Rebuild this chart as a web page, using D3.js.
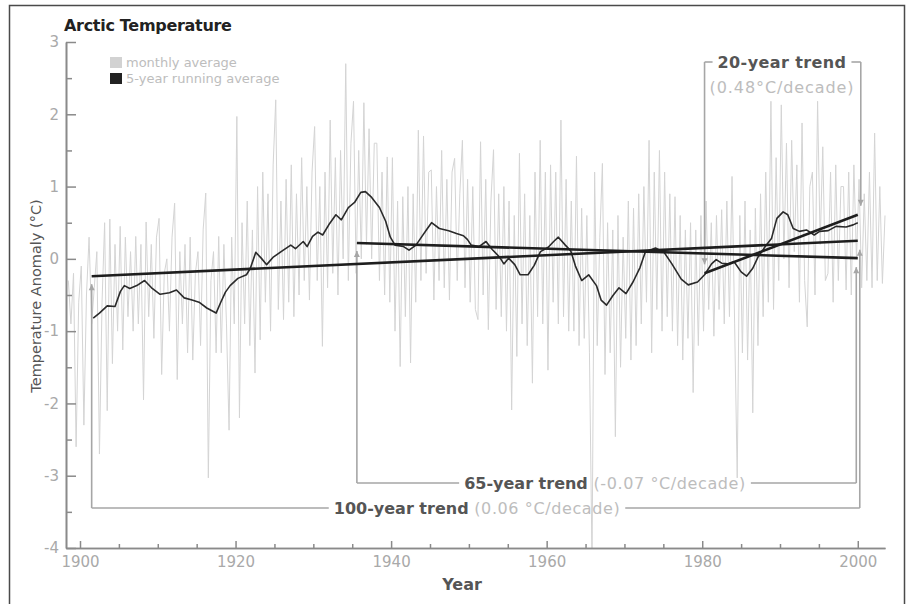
<!DOCTYPE html>
<html><head><meta charset="utf-8">
<script src="https://cdnjs.cloudflare.com/ajax/libs/d3/7.8.5/d3.min.js"></script>
<style>
body{margin:0;background:#fff;}
svg{display:block;font-family:"DejaVu Sans",sans-serif;}
</style>
</head><body>
<svg id="c" width="911" height="604"></svg>
<script>
// ---------------- DATA ----------------
const monthlyStart = 1898.5;   // first sample (year)
const monthlyPerYear = 3;      // samples per year
const monthly = [
 -0.3,-0.9,
 -0.2,-2.6,-0.6,   -0.1,-2.3,-0.5,   0.3,-0.9,-0.4,   0.1,-2.7,-0.6,   0.5,-2.1,0.55,
 -1.45,0.2,-1.0,   0.45,-1.26,0.3,   -0.8,0.1,-1.0,   0.31,-0.9,0.2,   -1.95,0.51,-0.8,
 0.2,-1.1,0.3,     0.56,-1.6,-0.2,   0.0,-1.0,0.3,    0.77,-1.67,0.1,  -0.9,0.2,-1.3,
 0.3,-1.4,-0.2,    0.1,-1.2,0.4,     0.91,-3.03,-0.3, 0.1,-1.3,0.31,   -1.3,0.2,-0.9,
 -2.37,0.3,-0.9,   1.97,-2.2,0.5,    -0.9,0.8,-1.2,   0.4,-1.58,1.0,   -1.12,1.2,-0.6,
 0.9,-1.0,1.3,     2.2,-0.7,0.8,     -0.84,1.1,-0.6,  1.3,-0.8,0.9,    -0.5,1.4,-0.3,
 1.0,-0.57,1.2,    1.83,-0.3,1.0,    -1.21,1.2,-0.4,  1.92,-0.2,1.4,   -0.5,1.5,0.0,
 2.7,-0.3,1.6,     2.18,-0.2,1.5,    0.0,2.16,0.2,    1.8,0.0,1.6,     1.6,-0.3,1.2,
 -0.5,1.41,-0.6,   1.4,-1.0,0.8,     -1.49,0.86,-0.8, 1.0,-1.44,0.9,   -0.6,1.78,-0.3,
 1.7,-0.2,1.2,     1.23,-0.57,1.0,   -0.3,1.5,-0.4,   1.1,-0.57,1.2,   1.39,-0.3,0.9,
 1.64,-0.4,1.1,    -0.6,1.0,-0.7,    -0.84,1.62,-0.5, 1.1,-0.98,0.8,   1.51,-0.7,0.9,
 -0.8,1.0,-1.0,    0.8,-2.09,0.6,    -1.35,1.46,-0.9, 0.9,-1.2,0.6,    -1.72,1.2,-0.8,
 1.64,-0.9,1.2,    -1.54,1.3,-0.6,   1.2,-0.9,1.92,   -0.8,1.1,-1.0,   0.8,-1.0,1.42,
 -1.2,0.7,-1.1,    0.6,-1.3,-4.2,    1.2,-1.2,0.3,    1.32,-1.6,0.5,   -1.3,0.4,-2.46,
 0.6,-1.5,0.3,     -1.1,0.8,-1.4,    0.7,-1.2,0.9,    -0.9,1.0,-0.6,   1.64,-1.3,1.2,
 -0.7,1.5,-1.0,    1.2,-0.8,0.9,     -1.0,0.86,-1.2,  0.6,-1.4,0.4,    -1.1,0.5,-1.85,
 0.4,-1.2,0.6,     -1.0,0.8,-0.7,    0.5,-1.07,0.6,   -0.7,0.68,-0.9,  0.8,-0.8,1.14,
 -0.9,-3.03,0.6,   -1.3,0.8,-1.4,    0.4,-2.13,0.7,   -1.2,0.9,-0.8,   1.2,-0.6,2.18,
 -0.7,1.4,-0.3,    2.13,0.0,1.6,     -0.4,1.64,0.1,   1.3,-0.6,1.88,   -0.3,-0.94,1.0,
 1.2,-0.5,2.18,    0.2,1.55,-0.3,    -0.2,1.2,-0.6,   1.3,-0.3,1.0,    1.0,-0.43,1.2,
 -0.5,1.3,0.0,     1.1,-0.4,0.9,     -0.3,1.2,-0.4,   1.74,-0.3,1.0,
 -0.34,0.6
];

const runYears = [1901.7,1902.5,1903.5,1904.5,1905.2,1905.7,1906.4,1907.3,1908.3,1909.2,1910.3,1911.5,1912.4,1913.4,1914.4,1915.3,1916.3,1917.5,1918.1,1918.7,1919.3,1920.3,1921.4,1921.9,1922.6,1923.3,1924.0,1924.8,1926.0,1927.1,1927.7,1928.7,1929.2,1929.9,1930.6,1931.2,1932.1,1932.9,1933.6,1934.5,1935.3,1936.1,1936.7,1937.5,1938.5,1939.3,1939.9,1940.5,1941.6,1942.3,1943.2,1943.9,1944.6,1945.2,1946.2,1947.4,1948.4,1949.3,1949.8,1950.3,1951.3,1952.2,1953.0,1953.9,1954.5,1955.1,1955.9,1956.6,1957.6,1958.4,1959.2,1960.2,1960.9,1961.5,1962.4,1963.1,1963.7,1964.5,1965.4,1966.4,1967.0,1967.7,1968.5,1969.3,1970.2,1971.1,1972.0,1972.7,1974.0,1975.1,1976.1,1977.3,1978.2,1979.4,1980.3,1981.2,1981.8,1982.5,1983.3,1984.1,1985.0,1985.7,1986.5,1987.2,1988.1,1988.9,1989.6,1990.4,1991.0,1991.7,1992.5,1993.4,1994.4,1995.1,1996.2,1997.2,1998.5,1999.4,2000.0];
const runValues = [-0.82,-0.75,-0.65,-0.66,-0.45,-0.37,-0.41,-0.37,-0.30,-0.40,-0.49,-0.47,-0.43,-0.54,-0.57,-0.60,-0.68,-0.75,-0.60,-0.46,-0.37,-0.27,-0.22,-0.13,0.09,0.01,-0.08,0.02,0.11,0.19,0.14,0.24,0.17,0.31,0.37,0.33,0.49,0.61,0.54,0.71,0.78,0.92,0.93,0.85,0.71,0.52,0.30,0.19,0.17,0.12,0.19,0.30,0.41,0.50,0.42,0.39,0.35,0.32,0.27,0.19,0.17,0.24,0.13,0.03,-0.07,0.01,-0.08,-0.22,-0.22,-0.09,0.10,0.16,0.24,0.30,0.19,0.11,-0.10,-0.30,-0.22,-0.37,-0.57,-0.64,-0.51,-0.40,-0.48,-0.32,-0.12,0.10,0.15,0.09,-0.07,-0.28,-0.36,-0.32,-0.22,-0.07,-0.01,-0.06,-0.07,-0.04,-0.18,-0.24,-0.13,0.03,0.17,0.28,0.56,0.65,0.61,0.42,0.38,0.40,0.33,0.38,0.39,0.45,0.44,0.47,0.50];

const trendNames = ["100-year trend", "65-year trend", "20-year trend"];
const trendRates = ["(0.06 \u00B0C/decade)", "(-0.07 \u00B0C/decade)", "(0.48\u00B0C/decade)"];
const trendStartYear = [1901.5, 1935.6, 1980.3];
const trendEndYear = [2000, 2000, 2000];
const trendStartValue = [-0.24, 0.22, -0.20];
const trendEndValue = [0.25, 0.01, 0.61];

const yTicks = [-4, -3, -2, -1, 0, 1, 2, 3];
const yMinorTicks = [-3.5, -2.5, -1.5, -0.5, 0.5, 1.5, 2.5];
const xTicks = [1900, 1920, 1940, 1960, 1980, 2000];
const xMinorTicks = [1905,1910,1915,1925,1930,1935,1945,1950,1955,1965,1970,1975,1985,1990,1995];
const legendLabels = ["monthly average", "5-year running average"];

// ---------------- DRAW ----------------
const svg = d3.select("#c");
const x = d3.scaleLinear().domain([1898.2, 2003.5]).range([66, 885]);
const y = d3.scaleLinear().domain([-4, 3]).range([548, 42]);

const C_AXIS = "#8a8a8a", C_TICKTXT = "#a9a9a9", C_DARK = "#555", C_LIGHT = "#bdbdbd", C_BRACKET = "#a6a6a6";

svg.append("rect").attr("x", 9.5).attr("y", 5.5).attr("width", 895).attr("height", 620)
  .attr("fill", "none").attr("stroke", "#4a4a4a").attr("stroke-width", 1.5);

svg.append("clipPath").attr("id", "plot").append("rect")
  .attr("x", 66).attr("y", 30).attr("width", 830).attr("height", 518);

// monthly series
const monthlyData = monthly.map((v, i) => ({t: monthlyStart + i / monthlyPerYear, v}));
svg.append("path").datum(monthlyData)
  .attr("clip-path", "url(#plot)")
  .attr("fill", "none").attr("stroke", "#d4d4d4").attr("stroke-width", 1)
  .attr("d", d3.line().x(d => x(d.t)).y(d => y(d.v)));

// brackets
const bracketSide = ["below", "below", "above"];
const bracketLevel = [508, 483, 62];
const bracketRightShift = [2, -1.5, 3];
const bracketTextCenter = [477, 605, 782];
const gB = svg.append("g");
function arrow(g, px, py, dir) { // dir: 1 up-pointing, -1 down-pointing
  g.append("path").attr("d", `M${px},${py} L${px-3},${py+6*dir} L${px+3},${py+6*dir} Z`)
    .attr("fill", C_BRACKET);
}
trendNames.forEach((name, i) => {
  const lx = x(trendStartYear[i]), rx = x(trendEndYear[i]) + bracketRightShift[i];
  const ly = bracketLevel[i];
  const g = gB.append("g");
  const line = (x1, y1, x2, y2) => g.append("line").attr("x1", x1).attr("y1", y1).attr("x2", x2).attr("y2", y2)
      .attr("stroke", C_BRACKET).attr("stroke-width", 1.6);
  let txt;
  if (bracketSide[i] === "below") {
    const t1 = y(trendStartValue[i]) + 8, t2 = y(trendEndValue[i]) + 9;
    line(lx, t1, lx, ly); line(rx, t2, rx, ly);
    arrow(g, lx, t1, 1); arrow(g, rx, t2, 1);
    txt = g.append("text").attr("x", bracketTextCenter[i]).attr("y", ly + 6)
      .attr("text-anchor", "middle").attr("font-size", 16);
    txt.append("tspan").attr("fill", C_DARK).attr("font-weight", "bold").text(name);
    txt.append("tspan").attr("fill", C_LIGHT).attr("letter-spacing", 0.6).text(" " + trendRates[i]);
  } else {
    const t1 = y(trendStartValue[i]) - 9, t2 = y(trendEndValue[i]) - 9;
    line(lx, ly, lx, t1); line(rx, ly, rx, t2);
    arrow(g, lx, t1, -1); arrow(g, rx, t2, -1);
    txt = g.append("text").attr("x", bracketTextCenter[i]).attr("y", ly + 6)
      .attr("text-anchor", "middle").attr("font-size", 16).attr("letter-spacing", 0.4)
      .attr("fill", C_DARK).attr("font-weight", "bold").text(name);
    g.append("text").attr("x", bracketTextCenter[i]).attr("y", ly + 31)
      .attr("text-anchor", "middle").attr("font-size", 16).attr("letter-spacing", 0.9)
      .attr("fill", C_LIGHT).text(trendRates[i]);
  }
  const bb = txt.node().getBBox();
  line(lx, ly, bb.x - 5, ly);
  line(bb.x + bb.width + 5, ly, rx, ly);
});

// running average
const runData = runYears.map((t, i) => ({t, v: runValues[i]}));
svg.append("path").datum(runData)
  .attr("fill", "none").attr("stroke", "#2a2a2a").attr("stroke-width", 1.6).attr("stroke-linejoin", "round")
  .attr("d", d3.line().x(d => x(d.t)).y(d => y(d.v)));

// trend lines
trendNames.forEach((n, i) => {
  svg.append("line")
    .attr("x1", x(trendStartYear[i])).attr("y1", y(trendStartValue[i]))
    .attr("x2", x(trendEndYear[i])).attr("y2", y(trendEndValue[i]))
    .attr("stroke", "#1e1e1e").attr("stroke-width", 2.6);
});

// axes
function styleAxis(g) {
  g.select(".domain").attr("stroke", C_AXIS).attr("stroke-width", 1.6);
  g.selectAll(".tick line").attr("stroke", C_AXIS).attr("stroke-width", 1.5);
  g.selectAll(".tick text").attr("fill", C_TICKTXT).attr("font-size", 15)
    .attr("font-family", '"DejaVu Sans",sans-serif');
}
svg.append("g").attr("transform", "translate(66,0)")
  .call(d3.axisLeft(y).tickValues(yMinorTicks).tickSize(-6).tickSizeOuter(0).tickFormat(""))
  .call(styleAxis);
svg.append("g").attr("transform", "translate(66,0)")
  .call(d3.axisLeft(y).tickValues(yTicks).tickSize(-10).tickSizeOuter(0).tickPadding(7).tickFormat(d => String(d)))
  .call(styleAxis);
svg.append("g").attr("transform", "translate(0,548)")
  .call(d3.axisBottom(x).tickValues(xMinorTicks).tickSize(-4).tickSizeOuter(0).tickFormat(""))
  .call(styleAxis);
svg.append("g").attr("transform", "translate(0,548)")
  .call(d3.axisBottom(x).tickValues(xTicks).tickSize(-7).tickSizeOuter(0).tickPadding(8).tickFormat(d => String(d)))
  .call(styleAxis);

// titles
svg.append("text").attr("x", 64).attr("y", 31).attr("font-size", 16).attr("font-weight", "bold")
  .attr("fill", "#222").attr("letter-spacing", -0.3).text("Arctic Temperature");
svg.append("text").attr("transform", "translate(41,296) rotate(-90)").attr("text-anchor", "middle")
  .attr("font-size", 14.5).attr("fill", C_DARK).text("Temperature Anomaly (\u00B0C)");
svg.append("text").attr("x", 462).attr("y", 590).attr("text-anchor", "middle")
  .attr("font-size", 16).attr("font-weight", "bold").attr("fill", C_DARK).text("Year");

// legend
const legColors = ["#d2d2d2", "#222"];
legendLabels.forEach((l, i) => {
  svg.append("rect").attr("x", 110).attr("y", 57 + i * 16).attr("width", 12).attr("height", 11).attr("fill", legColors[i]);
  svg.append("text").attr("x", 126).attr("y", 67 + i * 16).attr("font-size", 13)
    .attr("fill", C_LIGHT).text(l);
});
</script>
</body></html>
